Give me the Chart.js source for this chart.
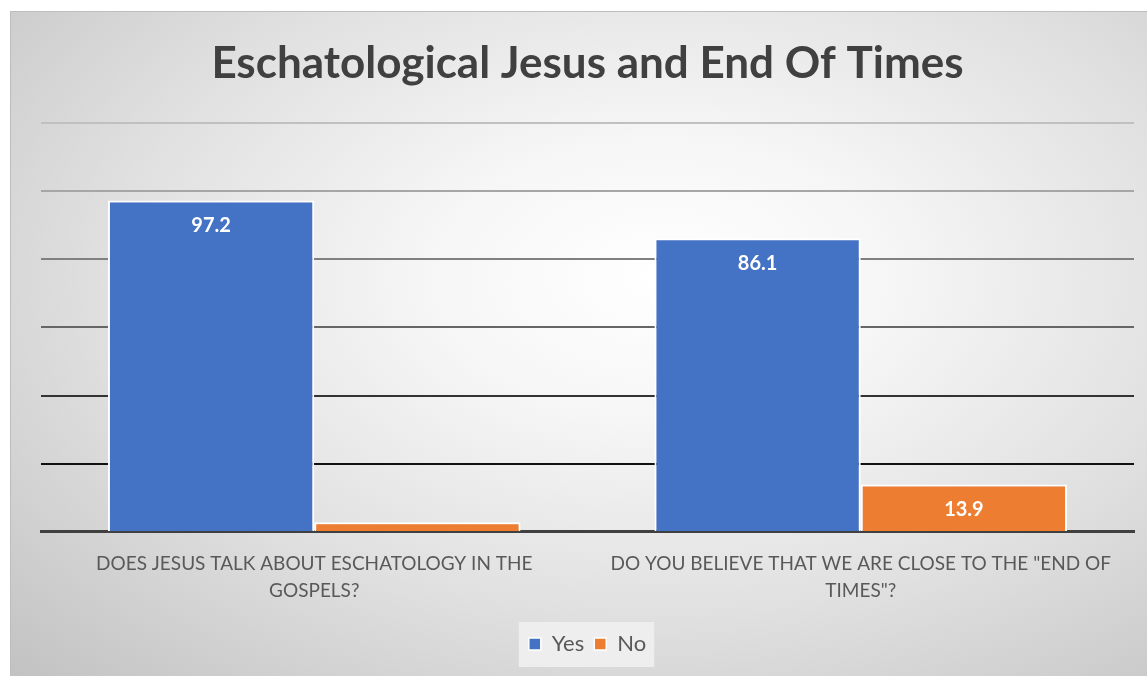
<!DOCTYPE html>
<html>
<head>
<meta charset="utf-8">
<script src="https://cdn.jsdelivr.net/npm/chart.js@4"></script>
<style>
    html, body { margin: 0; padding: 0; background: #fff; }
    #frame {
        position: absolute;
        left: 10px;
        top: 11px;
        width: 1137px;
        height: 665px;
        border-top: 1px solid #bdbdbd;
        border-left: 1px solid #bdbdbd;
        background: radial-gradient(ellipse farthest-corner at 57% 40%, #ffffff 0%, #f6f6f6 25%, #e0e0e0 60%, #c2c2c2 100%);
    }
    #chart { display: block; }
</style>
</head>
<body>
<div id="frame"><canvas id="chart" width="1137" height="665"></canvas></div>
<script>
// Data
const categories = [
    ['DOES JESUS TALK ABOUT ESCHATOLOGY IN THE', 'GOSPELS?'],
    ['DO YOU BELIEVE THAT WE ARE CLOSE TO THE "END OF', 'TIMES"?']
];
const seriesNames = ['Yes', 'No'];
const yesValues = [97.2, 86.1];
const noValues = [2.8, 13.9];
const yTicks = [0, 20, 40, 60, 80, 100, 120];

// gridlines get darker towards the bottom, like the original
const gridColors = {120: '#c0c0c0', 100: '#a6a6a6', 80: '#808080', 60: '#666666', 40: '#333333', 20: '#111111', 0: 'rgba(0,0,0,0)'};

// white value labels inside the top of each bar
const barLabels = {
    id: 'barLabels',
    afterDatasetsDraw(chart) {
        const ctx = chart.ctx;
        ctx.save();
        ctx.font = 'bold 20px Lato';
        ctx.fillStyle = '#ffffff';
        ctx.textAlign = 'center';
        ctx.textBaseline = 'middle';
        chart.data.datasets.forEach((ds, i) => {
            chart.getDatasetMeta(i).data.forEach((bar, j) => {
                const v = ds.data[j];
                if (bar.base - bar.y < 30) return;
                ctx.fillText(v.toFixed(1), bar.x, bar.y + 25);
            });
        });
        ctx.restore();
    }
};

// light box behind the legend
const legendBox = {
    id: 'legendBox',
    beforeDraw(chart) {
        const lg = chart.legend;
        if (!lg || !lg.legendHitBoxes.length) return;
        const boxes = lg.legendHitBoxes;
        const x1 = boxes[0].left - 10;
        const last = boxes[boxes.length - 1];
        const x2 = last.left + last.width + 8;
        const yc = boxes[0].top + boxes[0].height / 2;
        const ctx = chart.ctx;
        ctx.save();
        ctx.fillStyle = 'rgba(240,240,240,0.9)';
        ctx.fillRect(x1, yc - 22, x2 - x1, 45);
        ctx.restore();
    }
};

new Chart(document.getElementById('chart').getContext('2d'), {
    type: 'bar',
    data: {
        labels: categories,
        datasets: [
            {
                label: seriesNames[0],
                data: yesValues,
                backgroundColor: '#4472c4',
                borderColor: '#ffffff',
                borderWidth: {top: 2, left: 2, right: 2, bottom: 0},
                borderSkipped: false,
                categoryPercentage: 0.755,
                barPercentage: 1.0
            },
            {
                label: seriesNames[1],
                data: noValues,
                backgroundColor: '#ed7d31',
                borderColor: '#ffffff',
                borderWidth: {top: 2, left: 2, right: 2, bottom: 0},
                borderSkipped: false,
                categoryPercentage: 0.755,
                barPercentage: 1.0
            }
        ]
    },
    options: {
        responsive: false,
        animation: false,
        layout: { padding: { left: 30, right: 14, top: 0, bottom: 12 } },
        plugins: {
            title: {
                display: true,
                text: 'Eschatological Jesus and End Of Times',
                color: '#404040',
                font: { family: 'Lato', size: 44, weight: 'bold' },
                padding: { top: 25, bottom: 33 }
            },
            legend: {
                position: 'bottom',
                labels: {
                    color: '#595959',
                    font: { family: 'Lato', size: 22 },
                    boxWidth: 12,
                    boxHeight: 12,
                    padding: 10
                }
            },
            tooltip: { enabled: false }
        },
        scales: {
            x: {
                grid: { display: false, drawTicks: false },
                border: { display: true, color: '#404040', width: 3 },
                ticks: {
                    color: '#595959',
                    font: { family: 'Lato', size: 19, lineHeight: 1.45 },
                    padding: 18,
                    maxRotation: 0,
                    autoSkip: false
                }
            },
            y: {
                min: 0,
                max: yTicks[yTicks.length - 1],
                afterBuildTicks(axis) {
                    axis.ticks = yTicks.map(v => ({ value: v }));
                },
                ticks: { display: false },
                border: { display: false },
                grid: {
                    drawTicks: false,
                    lineWidth: 2,
                    color: c => gridColors[c.tick.value] || '#888888'
                }
            }
        }
    },
    plugins: [legendBox, barLabels]
});
</script>
</body>
</html>
